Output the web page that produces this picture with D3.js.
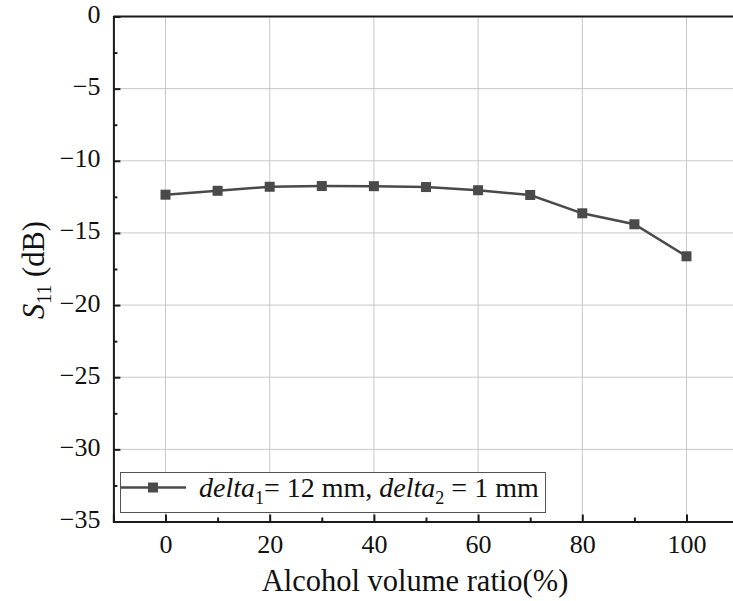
<!DOCTYPE html>
<html><head><meta charset="utf-8">
<script src="https://cdn.jsdelivr.net/npm/d3@7"></script>
<style>body{margin:0;background:#fff}svg{display:block;overflow:hidden}</style>
</head><body>
<script>
const ratios = [0, 10, 20, 30, 40, 50, 60, 70, 80, 90, 100];
const s11 = [-12.35, -12.08, -11.8, -11.75, -11.76, -11.82, -12.04, -12.37, -13.64, -14.4, -16.62];
const xTicks = [0, 20, 40, 60, 80, 100];
const yTicks = [0, -5, -10, -15, -20, -25, -30, -35];

const W = 733, H = 601;
const L = 113.4, T = 16.5, B = 521.5;
const FONT = "Liberation Serif";
const x = d3.scaleLinear().domain([-10, 110]).range([L, L + 52.1 * 12]);
const y = d3.scaleLinear().domain([-35, 0]).range([B, T]);
const R = x(110);

const svg = d3.select("body").append("svg").attr("width", W).attr("height", H)
  .attr("font-family", FONT);

svg.append("g").selectAll("line").data(xTicks).join("line")
  .attr("x1", d => x(d)).attr("x2", d => x(d)).attr("y1", T).attr("y2", B)
  .attr("stroke", "#c8c8c8").attr("stroke-width", 1);
svg.append("g").selectAll("line").data(yTicks.filter(d => d > -35 && d < 0)).join("line")
  .attr("y1", d => y(d)).attr("y2", d => y(d)).attr("x1", L).attr("x2", R)
  .attr("stroke", "#c8c8c8").attr("stroke-width", 1);

const xAxis = d3.axisBottom(x).tickValues(xTicks).tickSize(-7).tickPadding(13).tickFormat(d3.format("d"));
const xMinor = d3.axisBottom(x).tickValues([10, 30, 50, 70, 90]).tickSize(-4).tickFormat("");
const yAxis = d3.axisLeft(y).tickValues(yTicks).tickSize(-7).tickPadding(13)
  .tickFormat(d => d < 0 ? "\u2212" + Math.abs(d) : String(d));
const yMinor = d3.axisLeft(y).tickValues(d3.range(-32.5, 0, 5)).tickSize(-4).tickFormat("");

function styleAxis(g) {
  g.attr("font-family", FONT).attr("font-size", 26);
  g.select(".domain").attr("stroke", "#1a1a1a").attr("stroke-width", 2);
  g.selectAll(".tick line").attr("stroke", "#1a1a1a").attr("stroke-width", 2);
  g.selectAll(".tick text").attr("fill", "#111").attr("font-family", FONT).attr("font-size", 26).attr("dy", null);
}
svg.append("g").attr("transform", `translate(0,${B})`).call(xMinor).call(styleAxis).select(".domain").remove();
const gx = svg.append("g").attr("transform", `translate(0,${B})`).call(xAxis).call(styleAxis);
gx.selectAll(".tick text").attr("dominant-baseline", "hanging");
svg.append("g").attr("transform", `translate(${L},0)`).call(yMinor).call(styleAxis).select(".domain").remove();
const gy = svg.append("g").attr("transform", `translate(${L},0)`).call(yAxis).call(styleAxis);
gy.selectAll(".tick text").attr("dominant-baseline", "middle");

svg.append("line").attr("x1", L).attr("x2", R).attr("y1", T).attr("y2", T)
  .attr("stroke", "#1a1a1a").attr("stroke-width", 2);

const col = "#4a4a4a";
const pts = ratios.map((r, i) => [r, s11[i]]);
svg.append("path").datum(pts)
  .attr("d", d3.line().x(d => x(d[0])).y(d => y(d[1])))
  .attr("fill", "none").attr("stroke", col).attr("stroke-width", 2.5);
svg.append("g").selectAll("rect").data(pts).join("rect")
  .attr("x", d => x(d[0]) - 5).attr("y", d => y(d[1]) - 5).attr("width", 10).attr("height", 10)
  .attr("fill", col);

const lg = svg.append("g");
lg.append("rect").attr("x", 120.5).attr("y", 472.5).attr("width", 425).attr("height", 40)
  .attr("fill", "#fff").attr("stroke", "#555").attr("stroke-width", 1);
lg.append("line").attr("x1", 121).attr("x2", 186).attr("y1", 487.5).attr("y2", 487.5)
  .attr("stroke", col).attr("stroke-width", 2.5);
lg.append("rect").attr("x", 148).attr("y", 482.5).attr("width", 10).attr("height", 10).attr("fill", col);
const lt = lg.append("text").attr("x", 199).attr("y", 497).attr("font-family", FONT)
  .attr("font-size", 28).attr("fill", "#111");
lt.append("tspan").attr("font-style", "italic").text("delta");
lt.append("tspan").attr("font-size", 18).attr("dy", 7).text("1");
lt.append("tspan").attr("dy", -7).text("= 12 mm, ");
lt.append("tspan").attr("font-style", "italic").text("delta");
lt.append("tspan").attr("font-size", 18).attr("dy", 7).text("2");
lt.append("tspan").attr("dy", -7).text(" = 1 mm");

svg.append("text").attr("x", 415).attr("y", 591).attr("text-anchor", "middle")
  .attr("font-family", FONT).attr("font-size", 30.5).attr("fill", "#111")
  .text("Alcohol volume ratio(%)");
const yt = svg.append("text").attr("transform", "translate(44,270) rotate(-90)").attr("text-anchor", "middle")
  .attr("font-family", FONT).attr("font-size", 30.5).attr("fill", "#111");
yt.append("tspan").attr("font-style", "italic").text("S");
yt.append("tspan").attr("font-size", 20).attr("dy", 7).text("11");
yt.append("tspan").attr("dy", -7).text(" (dB)");
</script>
</body></html>
